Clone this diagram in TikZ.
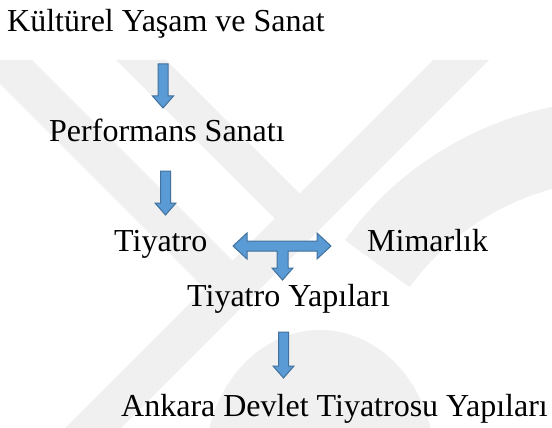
\documentclass[tikz,border=0pt]{standalone}
\usepackage{fontspec}
\newfontfamily\libser{Liberation Serif}
\usetikzlibrary{calc}
\definecolor{arrfill}{HTML}{5B9BD5}
\definecolor{arrline}{HTML}{41719C}
\tikzset{
  lbl/.style={anchor=base west, inner sep=0pt, font=\libser\fontsize{32}{38}\selectfont},
  blockarrow/.style={fill=arrfill, draw=arrline, line width=1pt, line join=miter},
  wmark/.style={fill=black, fill opacity=0.06, draw=none}
}
\newcommand\downblock[2]{%
  \draw[blockarrow] (#1) ++(-5,0) -- ++(10,0) -- ++(0,#2-12) -- ++(5.5,0)
    -- ++(-10.5,12) -- ++(-10.5,-12) -- ++(5.5,0) -- cycle;}
\begin{document}
\begin{tikzpicture}[x=1pt,y=-1pt]
\useasboundingbox (0,0) rectangle (552,428);
\fill[white] (0,0) rectangle (552,428);
% faint watermark
\begin{scope}
  \clip (0,0) rectangle (552,428);
  \fill[wmark] (-10,60) -- (32,60) -- (232.5,260.5) -- (204.5,288.5) -- (-10,74) -- cycle;
  \fill[wmark] (116,60) -- (166,60) -- (299.5,193.5) -- (274.5,218.5) -- cycle;
  \fill[wmark] (433,60) -- (489,60) -- (121,428) -- (65,428) -- cycle;
  \fill[wmark] (620,440) ++(216:340) arc[start angle=216, end angle=300, radius=340]
     -- ($(620,440)+(300:260)$) arc[start angle=300, end angle=216, radius=260] -- cycle;
  \fill[wmark] (320,465) ellipse[x radius=115, y radius=135];
\end{scope}
% texts
\node[lbl] (k)  at (7,32)    {Kültürel Yaşam ve Sanat};
\node[lbl] (p)  at (49,141)  {Performans Sanatı};
\node[lbl] (t)  at (114,251) {Tiyatro};
\node[lbl] (m)  at (367,251) {Mimarlık};
\node[lbl] (ty) at (187,306) {Tiyatro Yapıları};
\node[lbl] (a)  at (121,416) {Ankara Devlet Tiyatrosu Yapıları};
% arrow anchors
\coordinate (a1s) at (163,64);
\coordinate (a2s) at (165.5,171);
\coordinate (a4s) at (283.5,332);
\coordinate (tl) at (233,246);
\downblock{a1s}{44}
\downblock{a2s}{44}
\downblock{a4s}{46}
\draw[blockarrow] (tl) -- ++(14,-13) -- ++(0,8) -- ++(70,0) -- ++(0,-8) -- ++(14,13)
  -- ++(-14,13) -- ++(0,-8) -- ++(-29,0) -- ++(0,17) -- ++(5,0) -- ++(-10.5,12)
  -- ++(-10.5,-12) -- ++(5,0) -- ++(0,-17) -- ++(-30,0) -- ++(0,8) -- cycle;
\end{tikzpicture}
\end{document}
